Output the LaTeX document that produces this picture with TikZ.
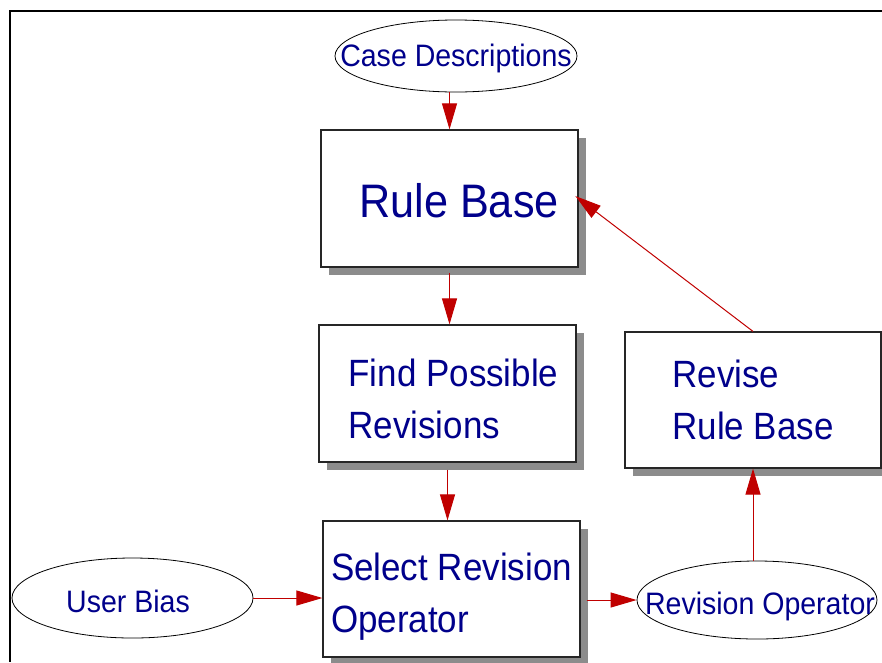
\documentclass[tikz,border=0pt]{standalone}
\usepackage{fontspec}
\setmainfont[FakeStretch=0.92]{Liberation Sans}
\usetikzlibrary{arrows.meta,shapes.geometric,shadows}
\definecolor{txtblue}{RGB}{0,0,139}
\definecolor{arrred}{RGB}{192,0,0}
\definecolor{shgray}{RGB}{140,140,140}
\begin{document}
\begin{tikzpicture}[x=1pt,y=-1pt,
  procbox/.style={draw=black!85, line width=1.2pt, fill=white, rectangle,
    minimum width=257pt, minimum height=137pt, inner sep=0pt, text=txtblue,
    align=left, font=\fontsize{38}{52}\selectfont,
    drop shadow={shadow xshift=8pt, shadow yshift=-8pt, fill=shgray, opacity=1}},
  oval/.style={draw=black, line width=0.8pt, ellipse, inner sep=0pt, fill=white,
    text=txtblue, font=\fontsize{31}{36}\selectfont},
  arr/.style={draw=arrred, line width=1pt, -{Triangle[length=26pt,width=15pt]}},
  frame/.style={draw=black, line width=2pt}]
\useasboundingbox (0,0) rectangle (882,662);
\draw[frame] (882,11) -- (10,11) -- (10,662);

\node[oval, minimum width=242pt, minimum height=72pt] (cd) at (456,56) {\makebox[0pt]{\raisebox{-10pt}[0pt][0pt]{Case Descriptions}}};
\node[procbox, font=\fontsize{47}{52}\selectfont] (rb) at (449.5,198.5) {\makebox[0pt]{\hspace*{19pt}\raisebox{-19pt}[0pt][0pt]{Rule Base}}};
\node[procbox] (find) at (447.5,393.5) {\hspace*{12pt}\rule{0pt}{38pt}Find Possible\\\hspace*{12pt}Revisions};
\node[procbox, minimum height=136pt] (sel) at (451.5,589) {\rule{0pt}{42pt}Select Revision\\Operator};
\node[procbox, minimum width=256pt, minimum height=136pt] (rev) at (753,400) {Revise\\Rule Base};
\node[oval, minimum width=241pt, minimum height=80pt] (ub) at (132.5,598) {\makebox[0pt]{\raisebox{-14pt}[0pt][0pt]{User Bias}\hspace*{9pt}}};
\node[oval, minimum width=240pt, minimum height=78pt] (ro) at (757,600) {\makebox[0pt]{\hspace*{6pt}\raisebox{-14pt}[0pt][0pt]{Revision Operator}}};

\draw[arr] (rb.north |- cd.south) -- (rb.north);
\draw[arr, shorten <=5pt] (rb.south) -- (rb.south |- find.north);
\draw[arr, shorten <=7pt] (find.south) -- (find.south |- sel.north);
\draw[arr] (ub.east) -- (ub.east -| sel.west);
\draw[arr, shorten <=6pt] (sel.east |- ro.west) -- (ro.west);
\draw[arr] (rev.south |- ro.north) -- (rev.south);
\draw[arr, shorten >=-4pt] (rev.north) -- (rb.east);
\end{tikzpicture}
\end{document}
